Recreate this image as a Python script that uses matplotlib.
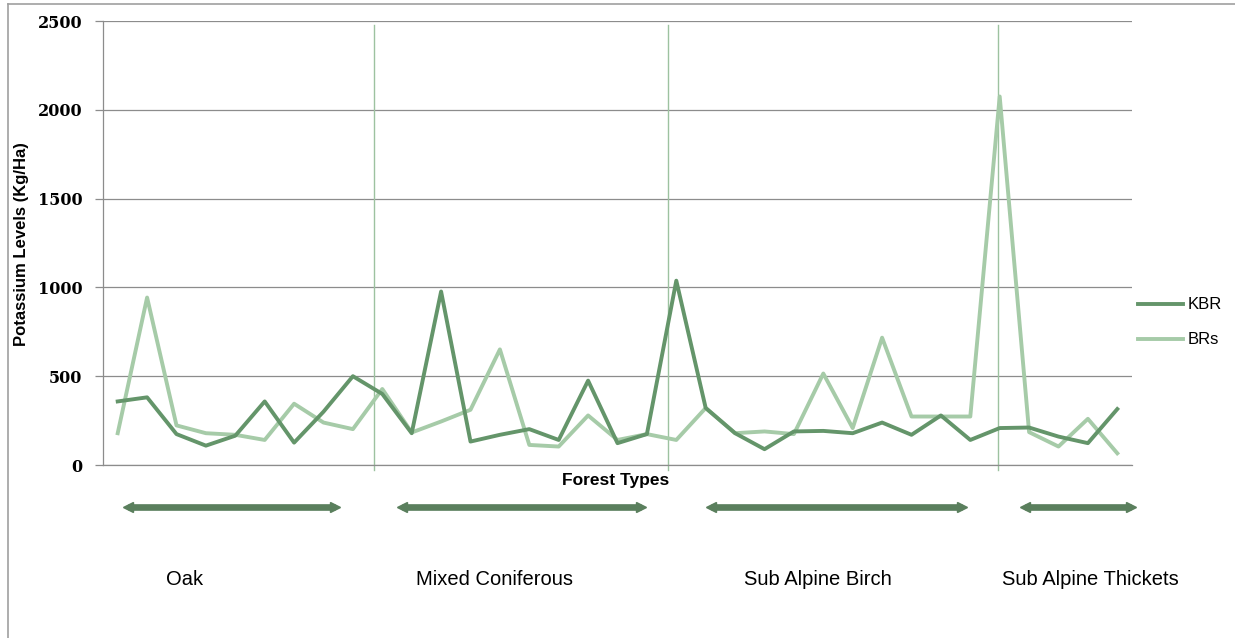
import numpy as np
import matplotlib
matplotlib.use("Agg")
import matplotlib.pyplot as plt
from matplotlib.lines import Line2D

# sample points along the x axis (no tick labels in the original)
kbr = [358, 381, 174, 109, 165, 358, 126, 300, 500, 400,
       179, 977, 132, 170, 202, 141, 475, 123, 174, 1038,
       321, 179, 89, 189, 192, 179, 239, 170, 279, 141,
       208, 211, 160, 123, 315]
brs = [179, 943, 223, 179, 170, 141, 345, 239, 202, 428,
       183, 245, 311, 651, 113, 104, 279, 141, 174, 141,
       321, 179, 189, 174, 515, 208, 717, 273, 273, 273,
       2075, 185, 104, 260, 66]
series_names = ["KBR", "BRs"]
yticks = [0, 500, 1000, 1500, 2000, 2500]

forest_types = ["Oak", "Mixed Coniferous", "Sub Alpine Birch", "Sub Alpine Thickets"]
group_spans = [(0.18, 7.56), (9.5, 17.97), (20.0, 28.9), (30.7, 34.65)]
label_x = [2.26, 12.8, 23.8, 33.07]
separators = [8.72, 18.72, 29.94]

c_kbr = "#64956a"
c_brs = "#a6cba8"
c_arrow = "#5a7f5d"
c_sep = "#9dc2a0"
c_grid = "#8c8c8c"

fig = plt.figure(figsize=(12.35, 6.38), dpi=100)
ax = fig.add_axes([103 / 1235, 1 - 465 / 638, 1029 / 1235, 444 / 638])

x = np.arange(len(kbr))
ax.plot(x, kbr, color=c_kbr, lw=2.8, label=series_names[0], zorder=4)
ax.plot(x, brs, color=c_brs, lw=2.8, label=series_names[1], zorder=3)

ax.set_xlim(-0.5, len(kbr) - 0.5)
ax.set_ylim(0, 2500)
ax.set_yticks(yticks)
ax.set_xticks([])
ax.yaxis.grid(True, color=c_grid, lw=0.9)
ax.set_axisbelow(True)
for s in ["top", "right"]:
    ax.spines[s].set_visible(False)
ax.spines["left"].set_color(c_grid)
ax.spines["bottom"].set_color(c_grid)
ax.spines["left"].set_linewidth(0.9)
ax.spines["bottom"].set_linewidth(0.9)
ax.tick_params(axis="y", length=6, width=0.9, color=c_grid, pad=9)
for lab in ax.get_yticklabels():
    lab.set_fontfamily("DejaVu Serif")
    lab.set_fontweight("bold")
    lab.set_fontsize(11.5)

# separators between forest types
for sx in separators:
    ax.plot([sx, sx], [-30, 2480], color=c_sep, lw=1.0, clip_on=False, zorder=2)

# group arrows and names under the axis
tr = ax.get_xaxis_transform()
arrow_y = -0.095
for (x0, x1), lx, name in zip(group_spans, label_x, forest_types):
    ax.plot([x0 + 0.17, x1 - 0.17], [arrow_y, arrow_y], transform=tr,
            color=c_arrow, lw=4.8, solid_capstyle="butt", clip_on=False)
    ax.plot([x0 + 0.17], [arrow_y], transform=tr, marker="<", ms=7.5,
            color=c_arrow, mec=c_arrow, clip_on=False)
    ax.plot([x1 - 0.17], [arrow_y], transform=tr, marker=">", ms=7.5,
            color=c_arrow, mec=c_arrow, clip_on=False)
    ax.text(lx, -0.257, name, transform=tr, ha="center", va="center",
            fontsize=14.5, family="Liberation Sans")

ax.text(0.4985, -0.036, "Forest Types", transform=ax.transAxes, ha="center",
        va="center", fontsize=12.5, fontweight="bold", family="Liberation Sans")

fig.text(22 / 1235, 1 - 244 / 638, "Potassium Levels (Kg/Ha)", rotation=90,
         ha="center", va="center", fontsize=12, fontweight="bold",
         family="Liberation Sans")

ax.legend(loc="center left", bbox_to_anchor=(1.0058, 0.321), frameon=False,
          handlelength=2.7, handletextpad=0.25, labelspacing=1.2, borderpad=0,
          borderaxespad=0, prop={"family": "Liberation Sans", "size": 12})

# chart area border
fig.add_artist(Line2D([8 / 1235, 1], [1 - 4 / 638, 1 - 4 / 638],
                      transform=fig.transFigure, color="#a0a0a0", lw=1.2))
fig.add_artist(Line2D([8 / 1235, 8 / 1235], [0, 1 - 4 / 638],
                      transform=fig.transFigure, color="#a0a0a0", lw=1.2))

fig.savefig("out.png", dpi=100)
